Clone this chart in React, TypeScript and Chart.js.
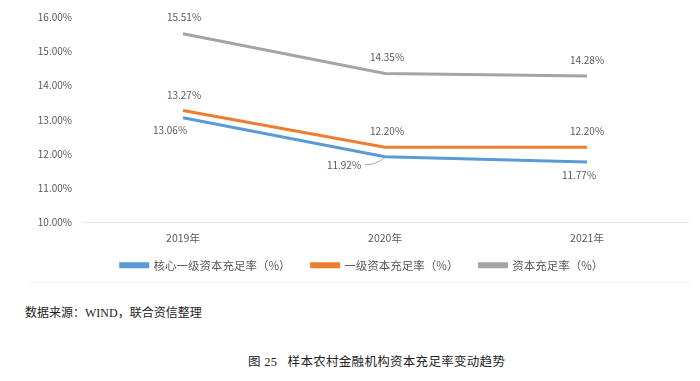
import React, { useEffect, useRef } from "react";
import { Chart, registerables } from "chart.js";

Chart.register(...registerables);

const categories = ["2019年", "2020年", "2021年"];
const coreTier1 = [13.06, 11.92, 11.77];
const tier1 = [13.27, 12.2, 12.2];
const capital = [15.51, 14.35, 14.28];
const seriesNames = ["核心一级资本充足率（%）", "一级资本充足率（%）", "资本充足率（%）"];
const yTicks = [10, 11, 12, 13, 14, 15, 16];

const COLORS = ["#5B9BD5", "#ED7D31", "#A5A5A5"];
const LABEL_OFFSETS = [
  [[-13, 13], [-41, 8], [-8, 13]],
  [[1, -15], [2, -16], [0, -16]],
  [[1, -17], [2, -16], [0, -16]],
];
const FONT = "'Noto Sans CJK SC', 'Noto Sans', sans-serif";
const LEGEND_SHIFT = 8;

const labelPlugin = {
  id: "valueLabels",
  afterLayout(chart: any) {
    const lg = chart.legend;
    if (lg) {
      lg.top -= LEGEND_SHIFT;
      lg.bottom -= LEGEND_SHIFT;
    }
  },
  afterDatasetsDraw(chart: any) {
    const ctx = chart.ctx;
    ctx.save();
    ctx.font = `10px ${FONT}`;
    ctx.fillStyle = "#595959";
    ctx.textAlign = "center";
    ctx.textBaseline = "middle";
    chart.data.datasets.forEach((ds: any, di: number) => {
      const meta = chart.getDatasetMeta(di);
      meta.data.forEach((pt: any, i: number) => {
        const [dx, dy] = LABEL_OFFSETS[di][i];
        const v = ds.data[i];
        ctx.fillText(v.toFixed(2) + "%", pt.x + dx, pt.y + dy);
        if (di === 0 && i === 1) {
          ctx.save();
          ctx.strokeStyle = "#A6A6A6";
          ctx.lineWidth = 1;
          ctx.beginPath();
          ctx.moveTo(pt.x + dx + 21, pt.y + dy);
          ctx.quadraticCurveTo(pt.x - 8, pt.y + dy, pt.x - 1, pt.y + 1);
          ctx.stroke();
          ctx.restore();
        }
      });
    });
    ctx.restore();
  },
};

export default function App() {
  const ref = useRef<HTMLCanvasElement>(null);
  useEffect(() => {
    if (!ref.current) return;
    const data = [coreTier1, tier1, capital];
    const chart = new Chart(ref.current, {
      type: "line",
      data: {
        labels: categories,
        datasets: data.map((d, i) => ({
          label: seriesNames[i],
          data: d,
          borderColor: COLORS[i],
          backgroundColor: COLORS[i],
          borderWidth: 3,
          pointRadius: 0,
          tension: 0,
        })),
      },
      options: {
        animation: false,
        responsive: false,
        maintainAspectRatio: false,
        layout: { padding: { left: 36, right: 12, top: 17, bottom: 0 } },
        plugins: {
          tooltip: { enabled: false },
          legend: {
            position: "bottom",
            labels: {
              boxWidth: 27,
              boxHeight: 3,
              padding: 21,
              color: "#595959",
              font: { size: 11.5, family: FONT },
            },
          },
        },
        scales: {
          x: {
            offset: true,
            grid: { display: false, drawTicks: false },
            border: { display: true, color: "#E6E6E6", width: 1 },
            ticks: { color: "#595959", font: { size: 10.5, family: FONT }, padding: 9 },
            afterFit: (s: any) => {
              s.height = 24;
            },
          },
          y: {
            min: 10,
            max: 16,
            grid: { display: false, drawTicks: false },
            border: { display: false },
            afterBuildTicks: (s: any) => {
              s.ticks = yTicks.map((v) => ({ value: v }));
            },
            ticks: {
              color: "#595959",
              font: { size: 10, family: FONT },
              padding: 10,
              callback: (v: any) => Number(v).toFixed(2) + "%",
            },
            afterFit: (s: any) => {
              s.width = 46;
            },
          },
        },
      },
      plugins: [labelPlugin],
    });
    return () => chart.destroy();
  }, []);

  const serif = "'Liberation Serif', 'Noto Sans CJK SC', serif";
  return (
    <div style={{ position: "absolute", left: 0, top: 0, width: 700, height: 381, background: "#fff" }}>
      <canvas ref={ref} width={700} height={289} style={{ position: "absolute", left: 0, top: 0, width: 700, height: 289 }} />
      <div style={{ position: "absolute", left: 30, top: 282, width: 660, height: 1, background: "#F2F2F2" }} />
      <div
        style={{
          position: "absolute",
          left: 25,
          top: 304,
          fontFamily: serif,
          fontSize: 12,
          lineHeight: "18px",
          color: "#222",
          whiteSpace: "nowrap",
        }}
      >
        数据来源：WIND，联合资信整理
      </div>
      <div
        style={{
          position: "absolute",
          left: 248,
          top: 353,
          fontFamily: serif,
          fontSize: 12.5,
          lineHeight: "18px",
          color: "#222",
          whiteSpace: "pre",
          letterSpacing: 0.3,
        }}
      >
        {"图 25   样本农村金融机构资本充足率变动趋势"}
      </div>
    </div>
  );
}
